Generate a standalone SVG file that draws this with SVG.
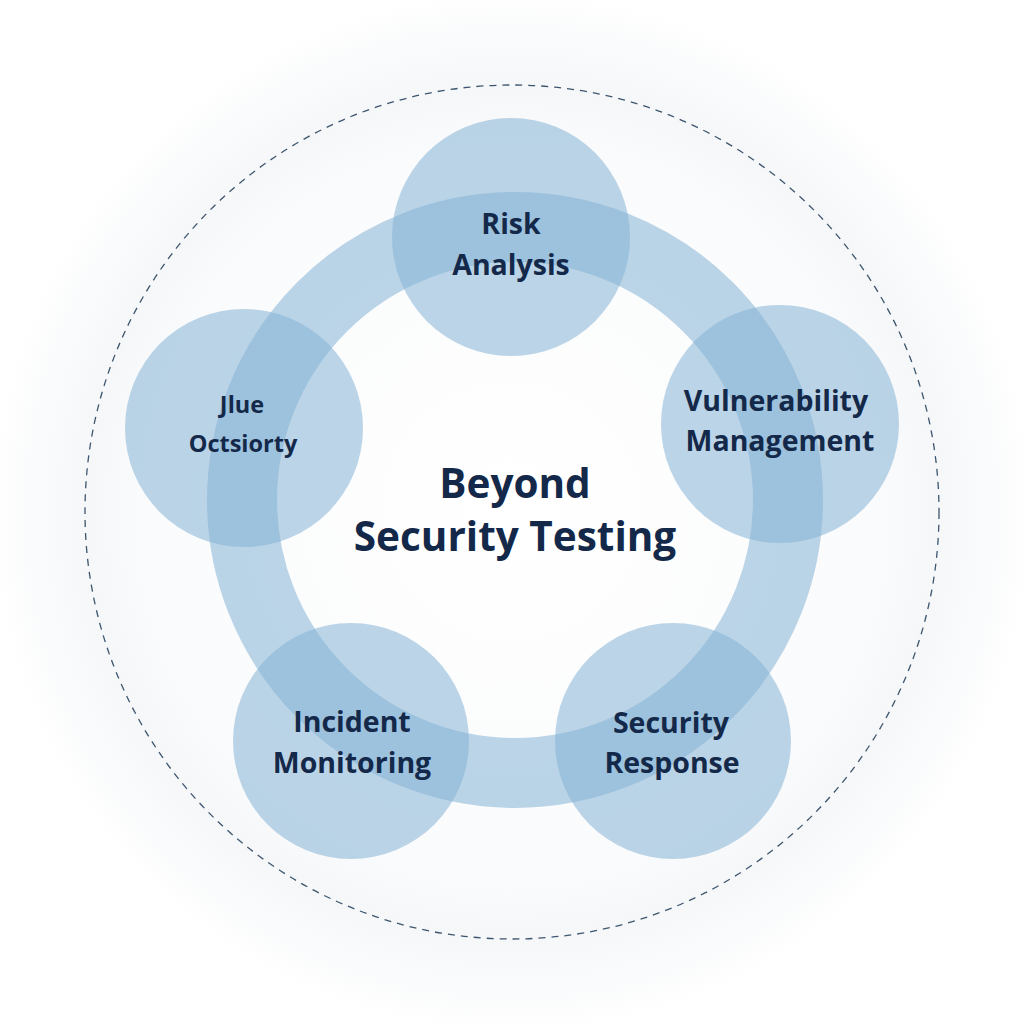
<svg xmlns="http://www.w3.org/2000/svg" width="1024" height="1024" viewBox="0 0 1024 1024">
<defs>
<radialGradient id="halo" cx="512" cy="512" r="520" gradientUnits="userSpaceOnUse">
<stop offset="0" stop-color="#ffffff"/>
<stop offset="0.7" stop-color="#fafbfc"/>
<stop offset="0.82" stop-color="#f5f7f9"/>
<stop offset="0.92" stop-color="#fafbfc"/>
<stop offset="1" stop-color="#ffffff"/>
</radialGradient>
<style>
.node{fill:#85b3d6;fill-opacity:0.55}
.lbl{font-family:"Open Sans","Liberation Sans",sans-serif;font-weight:700;fill:#14294a;text-anchor:middle}
.n{font-size:28.5px}
</style>
</defs>
<rect width="1024" height="1024" fill="#ffffff"/>
<circle cx="512" cy="512" r="520" fill="url(#halo)"/>
<circle cx="512" cy="512" r="427" fill="none" stroke="#3d556e" stroke-width="1.3" stroke-dasharray="7 6"/>
<g id="connectors">
<circle cx="515" cy="500" r="273" fill="none" stroke="#85b3d6" stroke-opacity="0.55" stroke-width="70"/>
</g>
<g id="node-risk">
<circle class="node" cx="511" cy="237" r="119"/>
<text class="lbl n" x="511" y="234">Risk</text>
<text class="lbl n" x="511" y="275">Analysis</text>
</g>
<g id="node-vuln">
<circle class="node" cx="780" cy="424" r="119"/>
<text class="lbl n" x="776" y="411">Vulnerability</text>
<text class="lbl n" x="780" y="451">Management</text>
</g>
<g id="node-jlue">
<circle class="node" cx="244" cy="428" r="119"/>
<text class="lbl" font-size="23.5" x="242" y="413">Jlue</text>
<text class="lbl" font-size="23.5" x="243" y="452">Octsiorty</text>
</g>
<g id="node-incident">
<circle class="node" cx="351" cy="741" r="118"/>
<text class="lbl n" x="352" y="732">Incident</text>
<text class="lbl n" x="352" y="773">Monitoring</text>
</g>
<g id="node-response">
<circle class="node" cx="673" cy="741" r="118"/>
<text class="lbl n" x="671" y="733">Security</text>
<text class="lbl n" x="672" y="773">Response</text>
</g>
<g id="center">
<text class="lbl" font-size="40.5" x="515" y="498">Beyond</text>
<text class="lbl" font-size="40.5" x="515" y="551">Security Testing</text>
</g>
</svg>
